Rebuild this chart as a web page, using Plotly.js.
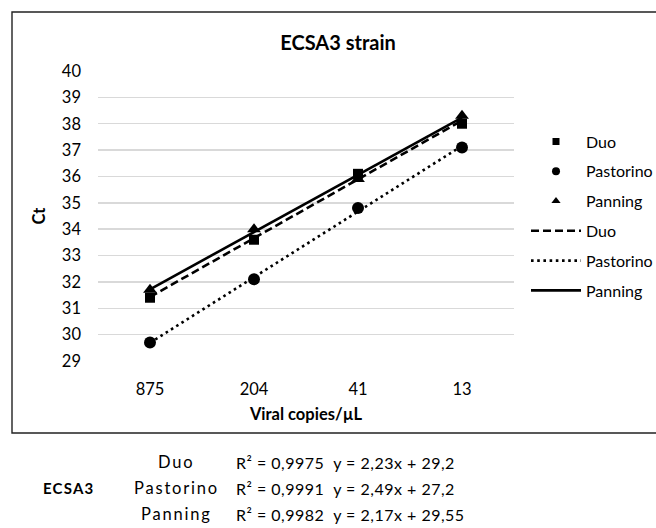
<!DOCTYPE html>
<html>
<head>
<meta charset="utf-8">
<script src="https://cdn.plot.ly/plotly-3.0.1.min.js"></script>
<style>
html,body{margin:0;padding:0;background:#fff}
#chart{width:656px;height:528px}
</style>
</head>
<body>
<div id="chart"></div>
<script>
var categories = ['875', '204', '41', '13'];
var duoCt = [31.4, 33.6, 36.1, 38.0];
var pastorinoCt = [29.7, 32.1, 34.8, 37.1];
var panningCt = [31.7, 34.0, 35.9, 38.3];
var seriesNames = ['Duo', 'Pastorino', 'Panning'];
var slopes = [2.23, 2.49, 2.17];
var intercepts = [29.2, 27.2, 29.55];
var r2Text = ['0,9975', '0,9991', '0,9982'];
var eqText = ['y = 2,23x + 29,2', 'y = 2,49x + 27,2', 'y = 2,17x + 29,55'];
var yTicks = [29,30,31,32,33,34,35,36,37,38,39,40];

var FONT = 'Lato, "Open Sans", sans-serif';
var TXT = '#000';
var xIdx = categories.map(function(_, i){ return i; });
function trend(k){ return xIdx.map(function(i){ return slopes[k]*(i+1) + intercepts[k]; }); }

var symbols = ['square', 'circle', 'triangle-up'];
var msizes = [10, 12, 12];
var legendSizes = [7, 8, 8];
var dashes = ['8px,4px', '2.6px,3.6px', 'solid'];
var values = [duoCt, pastorinoCt, panningCt];

var traces = [];
for (var k = 0; k < 3; k++) {
  traces.push({
    x: xIdx, y: values[k], type: 'scatter', mode: 'markers', name: seriesNames[k],
    showlegend: false, legendgroup: 'm' + k,
    marker: {symbol: symbols[k], size: msizes[k], color: '#000'}
  });
}
for (var k = 0; k < 3; k++) {
  traces.push({
    x: [null], y: [null], type: 'scatter', mode: 'markers', name: seriesNames[k],
    legendgroup: 'm' + k, showlegend: true,
    marker: {symbol: symbols[k], size: legendSizes[k], color: '#000'}
  });
}
for (var k = 0; k < 3; k++) {
  traces.push({
    x: xIdx, y: trend(k), type: 'scatter', mode: 'lines', name: seriesNames[k],
    legendgroup: 'l' + k,
    line: {color: '#000', width: 2.6, dash: dashes[k]}
  });
}

function py(p){ return 1 - (p - 71) / (361 - 71); }
function px(p){ return (p - 98) / (514 - 98); }
function spaced(t, s){ return '<span style="letter-spacing:' + s + 'px">' + t + '</span>'; }
var annotations = [];
var rowY = [462, 488, 514];
for (var k = 0; k < 3; k++) {
  annotations.push({xref: 'paper', yref: 'paper', x: px(176), y: py(rowY[k]), xanchor: 'center', yanchor: 'middle',
    text: spaced(seriesNames[k], 1.8), showarrow: false, font: {family: FONT, size: 16.5, color: TXT}});
  annotations.push({xref: 'paper', yref: 'paper', x: px(234), y: py(rowY[k]), xanchor: 'left', yanchor: 'middle',
    text: spaced('R² = ' + r2Text[k] + '  ' + eqText[k], 0.5), showarrow: false, font: {family: FONT, size: 16, color: TXT}});
}
annotations.push({xref: 'paper', yref: 'paper', x: px(68), y: py(488), xanchor: 'center', yanchor: 'middle',
  text: '<b>' + spaced('ECSA3', 1.2) + '</b>', showarrow: false, font: {family: FONT, size: 15, color: TXT}});

var layout = {
  width: 656, height: 528,
  margin: {l: 98, r: 142, t: 71, b: 167, autoexpand: false},
  paper_bgcolor: '#fff', plot_bgcolor: '#fff',
  font: {family: FONT, size: 16.5, color: TXT},
  title: {text: '<b>ECSA3 strain</b>', x: 338/656, xanchor: 'center', xref: 'container', y: 1 - 43/528, yanchor: 'middle', yref: 'container',
    font: {family: FONT, size: 20, color: TXT}},
  xaxis: {
    range: [-0.5, 3.5], tickvals: xIdx, ticktext: categories, showgrid: false, zeroline: false,
    showline: false, ticks: '', ticklabelstandoff: 16, tickfont: {size: 16.5},
    title: {text: '<b>Viral copies/µL</b>', standoff: 10, font: {size: 16.5}}
  },
  yaxis: {
    range: [29, 40], tickvals: yTicks, gridcolor: '#d9d9d9', gridwidth: 1.4, zeroline: false,
    showline: false, ticks: '', ticklabelstandoff: 16, tickfont: {size: 16.5},
    title: {text: '<b>Ct</b>', standoff: 12, font: {size: 16.5}}
  },
  showlegend: true,
  legend: {
    x: (526 - 98) / 416, xanchor: 'left', y: 0.5, yanchor: 'middle',
    font: {family: FONT, size: 16, color: TXT},
    tracegroupgap: 6, itemwidth: 50, traceorder: 'grouped', bgcolor: 'rgba(0,0,0,0)'
  },
  shapes: [{type: 'rect', xref: 'paper', yref: 'paper', x0: px(12), x1: px(700), y0: py(433), y1: py(12),
    line: {color: '#222', width: 1.4}, fillcolor: 'rgba(0,0,0,0)', layer: 'below'}],
  annotations: annotations
};

Plotly.newPlot('chart', traces, layout, {displayModeBar: false, staticPlot: true});
</script>
</body>
</html>
